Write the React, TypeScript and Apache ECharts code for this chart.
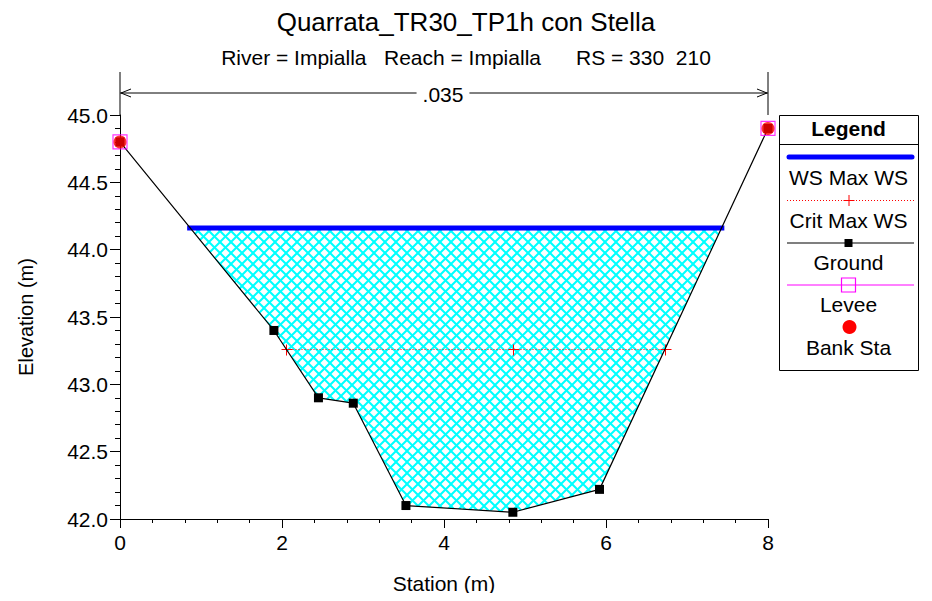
import React, { useEffect, useRef } from "react";
import * as echarts from "echarts";

const titleText = "Quarrata_TR30_TP1h con Stella";
const subtitleText = "River = Impialla   Reach = Impialla      RS = 330  210";
const xName = "Station (m)";
const yName = "Elevation (m)";

const groundStation = [0, 1.9, 2.45, 2.88, 3.53, 4.85, 5.92, 8];
const groundElev = [44.8, 43.4, 42.9, 42.86, 42.1, 42.05, 42.22, 44.9];
const wsStation = [0.86, 7.43];
const wsElev = 44.16;
const critStation = [2.05, 4.85, 6.73];
const critElev = 43.26;
const leveeStation = [0, 8];
const leveeElev = [44.8, 44.9];
const bankStation = [0, 8];
const bankElev = [44.8, 44.9];
const nValueLabel = ".035";
const nStart = 0;
const nEnd = 8;

const legendItems = ["WS Max WS", "Crit Max WS", "Ground", "Levee", "Bank Sta"];

const FONT = "Liberation Sans, Arial, Helvetica, sans-serif";

function makeHatch(): HTMLCanvasElement {
  const P = 11;
  const c = document.createElement("canvas");
  c.width = P;
  c.height = P;
  const g = c.getContext("2d")!;
  g.strokeStyle = "#00ffff";
  g.lineWidth = 2;
  for (let k = -1; k <= 1; k++) {
    g.beginPath();
    g.moveTo(k * P, 0);
    g.lineTo(k * P + P, P);
    g.stroke();
    g.beginPath();
    g.moveTo(k * P + P, 0);
    g.lineTo(k * P, P);
    g.stroke();
  }
  return c;
}

export default function App() {
  const ref = useRef<HTMLDivElement>(null);
  useEffect(() => {
    if (!ref.current) return;
    const chart = echarts.init(ref.current, undefined, { renderer: "svg" });

    const groundData = groundStation.map((s, i) => [s, groundElev[i]]);
    const fillPoly: number[][] = [[wsStation[0], wsElev]];
    groundStation.forEach((s, i) => {
      if (s > wsStation[0] && s < wsStation[1]) fillPoly.push([s, groundElev[i]]);
    });
    fillPoly.push([wsStation[1], wsElev]);

    const hatch = makeHatch();
    const snap = (v: number) => Math.round(v) + 0.5;

    const option: any = {
      animation: false,
      backgroundColor: "#ffffff",
      title: [
        {
          text: titleText,
          left: "center",
          top: 4,
          textStyle: { fontFamily: FONT, fontSize: 26, fontWeight: "normal", color: "#000" },
        },
        {
          text: subtitleText,
          left: "center",
          top: 42,
          textStyle: { fontFamily: FONT, fontSize: 21, fontWeight: "normal", color: "#000" },
        },
      ],
      grid: { left: 120, right: 164, top: 115, bottom: 82 },
      xAxis: {
        type: "value",
        min: 0,
        max: 8,
        interval: 2,
        name: xName,
        nameLocation: "middle",
        nameGap: 54,
        nameTextStyle: { fontFamily: FONT, fontSize: 21, color: "#000" },
        axisLine: { onZero: false, lineStyle: { color: "#000", width: 1 } },
        axisTick: { show: true, length: 9, lineStyle: { color: "#000" } },
        minorTick: { show: true, splitNumber: 5, length: 4, lineStyle: { color: "#000" } },
        axisLabel: { fontFamily: FONT, fontSize: 21, color: "#000", margin: 13 },
        splitLine: { show: false },
      },
      yAxis: {
        type: "value",
        min: 42,
        max: 45,
        interval: 0.5,
        name: yName,
        nameLocation: "middle",
        nameGap: 84,
        nameTextStyle: { fontFamily: FONT, fontSize: 20, color: "#000" },
        axisLine: { onZero: false, lineStyle: { color: "#000", width: 1 } },
        axisTick: { show: true, length: 10, lineStyle: { color: "#000" } },
        minorTick: { show: true, splitNumber: 5, length: 5, lineStyle: { color: "#000" } },
        axisLabel: {
          fontFamily: FONT,
          fontSize: 21,
          color: "#000",
          margin: 12,
          formatter: (v: number) => v.toFixed(1),
        },
        splitLine: { show: false },
      },
      series: [
        {
          type: "custom",
          name: "fill",
          z: 1,
          silent: true,
          data: [0],
          renderItem: (params: any, api: any) => {
            const pts = fillPoly.map((p) => api.coord(p));
            return {
              type: "polygon",
              shape: { points: pts },
              style: { fill: { image: hatch, repeat: "repeat", imageWidth: 11, imageHeight: 11 }, stroke: "none" },
            };
          },
        },
        {
          type: "line",
          name: "WS Max WS",
          z: 3,
          data: wsStation.map((s) => [s, wsElev]),
          showSymbol: false,
          symbol: "none",
          lineStyle: { color: "#0000ff", width: 5, cap: "square" },
        },
        {
          type: "custom",
          name: "Crit Max WS",
          z: 4,
          silent: true,
          data: critStation.map((s) => [s, critElev]),
          renderItem: (params: any, api: any) => {
            const [px, py] = api.coord([api.value(0), api.value(1)]);
            const x = snap(px);
            const y = snap(py);
            const children: any[] = [
              { type: "line", z2: 2, shape: { x1: x - 5, y1: y, x2: x + 6, y2: y }, style: { stroke: "#ff0000", lineWidth: 1 } },
              { type: "line", z2: 2, shape: { x1: x, y1: y - 5, x2: x, y2: y + 6 }, style: { stroke: "#ff0000", lineWidth: 1 } },
            ];
            if (params.dataIndex === 0) {
              const [ex] = api.coord([critStation[critStation.length - 1], critElev]);
              children.push({
                type: "line",
                z2: 1,
                shape: { x1: x, y1: y, x2: snap(ex), y2: y },
                style: { stroke: "#ff0000", lineWidth: 1, lineDash: [1, 2] },
              });
            }
            return { type: "group", children };
          },
        },
        {
          type: "line",
          name: "Ground",
          z: 5,
          data: groundData,
          symbol: "rect",
          symbolSize: 9,
          itemStyle: { color: "#000" },
          lineStyle: { color: "#000", width: 1.2 },
        },
        {
          type: "scatter",
          name: "Levee",
          z: 6,
          data: leveeStation.map((s, i) => [s, leveeElev[i]]),
          symbol: "rect",
          symbolSize: 14,
          itemStyle: { color: "rgba(0,0,0,0)", borderColor: "#ff00ff", borderWidth: 1.2 },
        },
        {
          type: "scatter",
          name: "Bank Sta",
          z: 7,
          data: bankStation.map((s, i) => [s, bankElev[i]]),
          symbol: "circle",
          symbolSize: 13,
          itemStyle: { color: "#ff0000" },
        },
      ],
    };
    chart.setOption(option);

    const [xa, yTop] = chart.convertToPixel({ gridIndex: 0 }, [nStart, 45]);
    const [xb] = chart.convertToPixel({ gridIndex: 0 }, [nEnd, 45]);
    const dimY = yTop - 22;
    const extTop = yTop - 43;
    const midX = (xa + xb) / 2 - 1;

    const LX = 779;
    const LY = 115;
    const LW = 139;
    const LH = 255;
    const cx = LX + LW / 2;
    const lineL = LX + 8;
    const lineR = LX + LW - 4;
    const txt = (t: string, y: number, bold = false) => ({
      type: "text",
      z: 100,
      style: {
        text: t,
        x: cx,
        y,
        align: "center",
        verticalAlign: "middle",
        font: `${bold ? "bold " : ""}21px ${FONT}`,
        fill: "#000",
      },
    });

    const graphic: any[] = [
      { type: "line", z: 50, shape: { x1: xa, y1: extTop, x2: xa, y2: yTop }, style: { stroke: "#000", lineWidth: 1 } },
      { type: "line", z: 50, shape: { x1: xb, y1: extTop, x2: xb, y2: yTop }, style: { stroke: "#000", lineWidth: 1 } },
      { type: "line", z: 50, shape: { x1: xa, y1: dimY, x2: xb, y2: dimY }, style: { stroke: "#000", lineWidth: 1 } },
      {
        type: "polyline",
        z: 50,
        shape: { points: [[xa + 11, dimY - 4], [xa + 1, dimY], [xa + 11, dimY + 4]] },
        style: { stroke: "#000", lineWidth: 1, fill: "none" },
      },
      {
        type: "polyline",
        z: 50,
        shape: { points: [[xb - 11, dimY - 4], [xb - 1, dimY], [xb - 11, dimY + 4]] },
        style: { stroke: "#000", lineWidth: 1, fill: "none" },
      },
      {
        type: "text",
        z: 60,
        style: {
          text: nValueLabel,
          x: midX,
          y: dimY + 1,
          align: "center",
          verticalAlign: "middle",
          font: `21px ${FONT}`,
          fill: "#000",
          backgroundColor: "#fff",
          padding: [0, 6, 0, 6],
        },
      },
      {
        type: "rect",
        z: 90,
        shape: { x: LX + 0.5, y: LY + 0.5, width: LW, height: LH },
        style: { fill: "#fff", stroke: "#000", lineWidth: 1 },
      },
      {
        type: "line",
        z: 91,
        shape: { x1: LX, y1: LY + 29.5, x2: LX + LW, y2: LY + 29.5 },
        style: { stroke: "#000", lineWidth: 1 },
      },
      txt("Legend", LY + 13, true),
      {
        type: "line",
        z: 95,
        shape: { x1: lineL + 2, y1: LY + 42, x2: lineR - 2, y2: LY + 42 },
        style: { stroke: "#0000ff", lineWidth: 5, lineCap: "round" },
      },
      txt(legendItems[0], LY + 62),
      {
        type: "line",
        z: 95,
        shape: { x1: lineL, y1: LY + 85.5, x2: lineR, y2: LY + 85.5 },
        style: { stroke: "#ff0000", lineWidth: 1, lineDash: [1, 2] },
      },
      {
        type: "line",
        z: 96,
        shape: { x1: cx - 5, y1: LY + 85.5, x2: cx + 6, y2: LY + 85.5 },
        style: { stroke: "#ff0000", lineWidth: 1 },
      },
      {
        type: "line",
        z: 96,
        shape: { x1: cx + 0.5, y1: LY + 80, x2: cx + 0.5, y2: LY + 91 },
        style: { stroke: "#ff0000", lineWidth: 1 },
      },
      txt(legendItems[1], LY + 105),
      {
        type: "line",
        z: 95,
        shape: { x1: lineL, y1: LY + 128, x2: lineR, y2: LY + 128 },
        style: { stroke: "#000", lineWidth: 1.2 },
      },
      {
        type: "rect",
        z: 96,
        shape: { x: cx - 4, y: LY + 124, width: 8, height: 8 },
        style: { fill: "#000" },
      },
      txt(legendItems[2], LY + 147),
      {
        type: "line",
        z: 95,
        shape: { x1: lineL, y1: LY + 170, x2: lineR, y2: LY + 170 },
        style: { stroke: "#ff00ff", lineWidth: 1 },
      },
      {
        type: "rect",
        z: 96,
        shape: { x: cx - 7, y: LY + 163, width: 14, height: 14 },
        style: { fill: "rgba(0,0,0,0)", stroke: "#ff00ff", lineWidth: 1.2 },
      },
      txt(legendItems[3], LY + 189),
      {
        type: "circle",
        z: 96,
        shape: { cx: cx + 1, cy: LY + 212, r: 7 },
        style: { fill: "#ff0000" },
      },
      txt(legendItems[4], LY + 232),
    ];
    chart.setOption({ graphic });

    return () => chart.dispose();
  }, []);
  return <div ref={ref} style={{ width: 932, height: 601, margin: -8 }} />;
}
